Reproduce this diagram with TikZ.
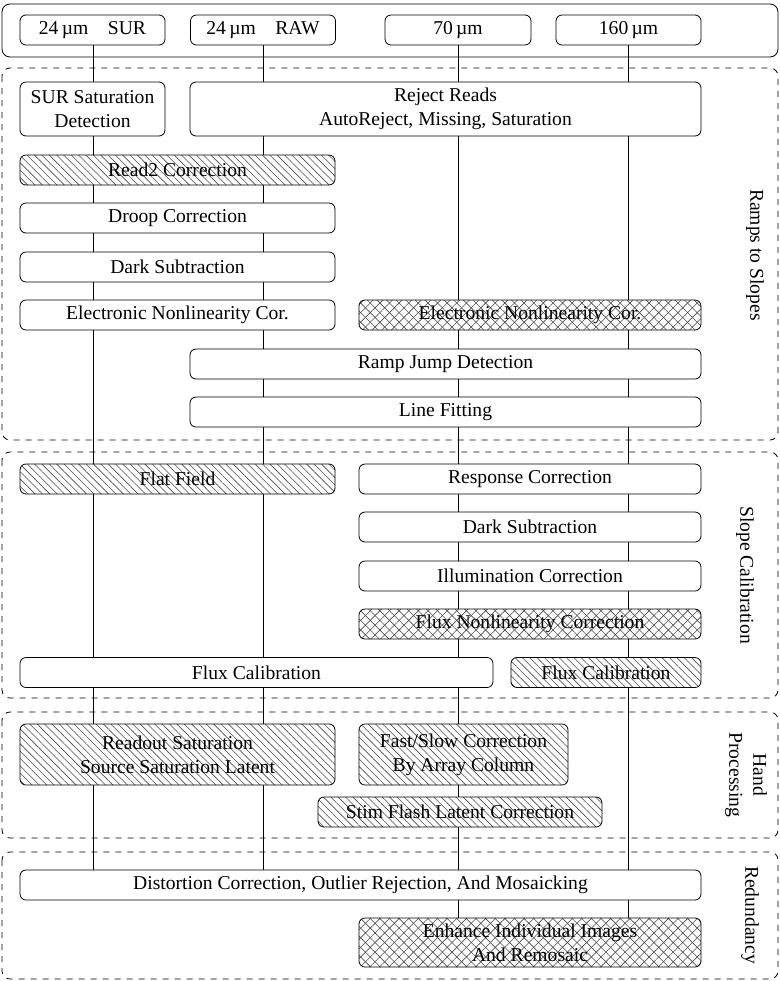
\documentclass[tikz,border=0pt]{standalone}
\usepackage{fontspec}
\setmainfont{Liberation Serif}
\usetikzlibrary{patterns.meta,backgrounds}

\begin{document}
\begin{tikzpicture}[
  x=0.5pt, y=-0.5pt,
  font=\fontsize{9.8}{12}\selectfont,
  box/.style={draw, rounded corners=3pt, align=center, fill=white, inner sep=0pt, minimum height=15pt},
  hatch/.style={box, preaction={fill=white}, pattern color=black!70,
    pattern={Lines[angle=-45,distance=2.6pt,line width=0.3pt]}},
  xhatch/.style={box, preaction={fill=white},
    preaction={pattern color=black!70, pattern={Lines[angle=45,distance=3.4pt,line width=0.3pt]}},
    pattern color=black!70, pattern={Lines[angle=-45,distance=3.4pt,line width=0.3pt]}},
  grp/.style={draw, dashed, rounded corners=4pt},
  side/.style={rotate=-90, align=center},
  flow/.style={line width=0.5pt}
]
  \useasboundingbox (0,0) rectangle (780,981);

  % input channels
  \draw[rounded corners=4pt] (2,4) rectangle (778,57);
  \node[box, minimum width=72.5pt] (sur24) at (92.5,30) {24\,µm\quad SUR};
  \node[box, minimum width=72.5pt] (raw24) at (263,30) {24\,µm\quad RAW};
  \node[box, minimum width=73pt] (m70) at (458,30) {70\,µm};
  \node[box, minimum width=72.5pt] (m160) at (628.5,30) {160\,µm};

  \coordinate (c1) at (93,0);
  \coordinate (c2) at (263,0);
  \coordinate (c3) at (458,0);
  \coordinate (c4) at (628,0);

  % ramps to slopes
  \draw[grp] (2,68) rectangle (778,440);
  \node[box, minimum width=72.5pt, minimum height=27pt] (surdet) at (92.5,109) {SUR Saturation\\Detection};
  \node[box, minimum width=255.5pt, minimum height=27pt] (reject) at (445.5,109) {Reject Reads\\AutoReject, Missing, Saturation};
  \node[hatch, minimum width=157.5pt] (read2) at (177.5,170) {Read2 Correction};
  \node[box, minimum width=157.5pt] (droop) at (177.5,218) {Droop Correction};
  \node[box, minimum width=157.5pt] (darka) at (177.5,267) {Dark Subtraction};
  \node[box, minimum width=157.5pt] (enla) at (177.5,315) {Electronic Nonlinearity Cor.};
  \node[xhatch, minimum width=171pt] (enlb) at (530,315) {Electronic Nonlinearity Cor.};
  \node[box, minimum width=255.5pt] (rampjump) at (445.5,364) {Ramp Jump Detection};
  \node[box, minimum width=255.5pt] (linefit) at (445.5,412) {Line Fitting};
  \node[side] (lramps) at (755,255) {Ramps to Slopes};

  % slope calibration
  \draw[grp] (2,452) rectangle (778,698);
  \node[hatch, minimum width=157.5pt] (flat) at (177.5,479) {Flat Field};
  \node[box, minimum width=171pt] (resp) at (530,479) {Response Correction};
  \node[box, minimum width=171pt] (darkb) at (530,527) {Dark Subtraction};
  \node[box, minimum width=171pt] (illum) at (530,576) {Illumination Correction};
  \node[xhatch, minimum width=171pt] (fluxnl) at (530,624) {Flux Nonlinearity Correction};
  \node[box, minimum width=236.5pt] (fluxa) at (256.5,672.5) {Flux Calibration};
  \node[hatch, minimum width=95pt] (fluxb) at (606,672.5) {Flux Calibration};
  \node[side] (lslope) at (745,575) {Slope Calibration};

  % hand processing
  \draw[grp] (2,712) rectangle (778,838);
  \node[hatch, minimum width=157.5pt, minimum height=30.5pt] (readout) at (177.5,754.5) {Readout Saturation\\Source Saturation Latent};
  \node[hatch, minimum width=104.5pt, minimum height=30.5pt] (fastslow) at (463.5,754.5) {Fast/Slow Correction\\By Array Column};
  \node[hatch, minimum width=142pt] (stim) at (460,812) {Stim Flash Latent Correction};
  \node[side] (lhand) at (746,775) {Hand\\Processing};

  % redundancy
  \draw[grp] (2,852) rectangle (778,979);
  \node[box, minimum width=340.5pt] (dist) at (360.5,885) {Distortion Correction, Outlier Rejection, And Mosaicking};
  \node[xhatch, minimum width=171pt, minimum height=24.5pt] (enhance) at (530,942.5) {Enhance Individual Images\\And Remosaic};
  \node[side] (lred) at (750,915) {Redundancy};

  \begin{scope}[on background layer]
    \draw[flow] (sur24.south -| c1) -- (dist.north -| c1);
    \draw[flow] (raw24.south -| c2) -- (dist.north -| c2);
    \draw[flow] (m70.south -| c3) -- (enhance.north -| c3);
    \draw[flow] (m160.south -| c4) -- (enhance.north -| c4);
  \end{scope}
\end{tikzpicture}
\end{document}
